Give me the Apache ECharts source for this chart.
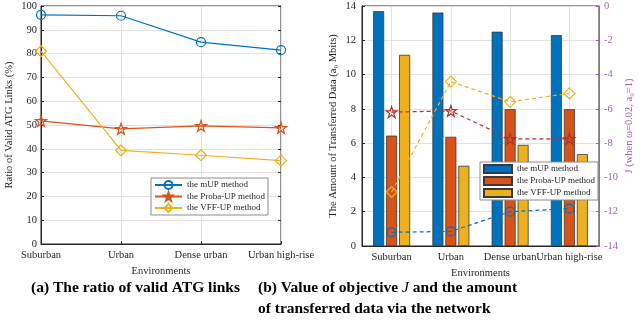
<!DOCTYPE html>
<html><head><meta charset="utf-8">
<script src="https://cdn.jsdelivr.net/npm/echarts@6/dist/echarts.min.js"></script>
<style>html,body{margin:0;padding:0;background:#fff}#c{width:644px;height:327px}</style>
</head><body><div id="c"></div>
<script>
// ---- data ----
const categories = ['Suburban', 'Urban', 'Dense urban', 'Urban high-rise'];
const methodNames = ['the mUP method', 'the Proba-UP method', 'the VFF-UP method'];
// (a) ratio of valid ATG links (%)
const ratioMUP = [96.3, 95.9, 84.8, 81.5];
const ratioProba = [51.7, 48.4, 49.6, 48.8];
const ratioVFF = [81.0, 39.3, 37.3, 35.0];
// (b) transferred data (a0 Mbits)
const dataMUP = [13.7, 13.62, 12.5, 12.3];
const dataProba = [6.44, 6.37, 7.98, 7.98];
const dataVFF = [11.15, 4.68, 5.9, 5.36];
// (b) objective J
const jMUP = [-13.2, -13.15, -12.0, -11.82];
const jProba = [-6.19, -6.12, -7.75, -7.75];
const jVFF = [-10.85, -4.41, -5.59, -5.1];

const FONT = 'Liberation Serif';
const AX = '#262626';
const GRID = '#e2e2e2';
const PURPLE = '#9a62b3';
const BLUE = '#0072BD', ORANGE = '#D95319', YELLOW = '#EDB120', RED = '#B5302A';
const STAR = 'path://M0,-10L2.245,-3.09L9.51,-3.09L3.633,1.18L5.88,8.09L0,3.82L-5.88,8.09L-3.633,1.18L-9.51,-3.09L-2.245,-3.09Z';
const txt = (size, color) => ({fontFamily: FONT, fontSize: size, color: color || AX});

const chart = echarts.init(document.getElementById('c'));

function lineSeries(name, data, color, symbol, size, xi, yi, dashed) {
  return {
    type: 'line', name: name, data: data, xAxisIndex: xi, yAxisIndex: yi,
    symbol: symbol, symbolSize: size, z: 5,
    lineStyle: {color: color, width: 1.2, type: dashed ? [4, 3] : 'solid'},
    itemStyle: {color: 'rgba(0,0,0,0)', borderColor: color, borderWidth: 1.2}
  };
}
function barSeries(name, data, color) {
  return {
    type: 'bar', name: name, data: data, xAxisIndex: 1, yAxisIndex: 1,
    barWidth: 11, barGap: '18%', z: 2,
    itemStyle: {color: color, borderColor: '#3a3a3a', borderWidth: 0.8}
  };
}
const bName = methodNames.map(n => n + '\u200b');
const capStyle = {fontFamily: FONT, fontWeight: 'bold', fontSize: 15.5, color: '#000', lineHeight: 21};

const option = {
  animation: false,
  backgroundColor: '#fff',
  title: [
    {text: '(a) The ratio of valid ATG links', left: 31, top: 277, padding: 0, textStyle: capStyle},
    {text: '(b) Value of objective {i|J} and the amount\nof transferred data via the network', left: 258, top: 277, padding: 0,
     textStyle: Object.assign({}, capStyle, {
       rich: {i: Object.assign({}, capStyle, {fontStyle: 'italic', fontWeight: 'normal'})}})}
  ],
  grid: [
    {left: 41, top: 6, width: 240, height: 238, show: true, borderColor: AX, borderWidth: 1},
    {left: 362, top: 6, width: 237, height: 240, show: true, borderColor: AX, borderWidth: 1}
  ],
  legend: [
    {data: methodNames, left: 151, top: 178, orient: 'vertical', padding: [2, 3], itemGap: 1.5,
     itemWidth: 27, itemHeight: 10, textStyle: txt(9), backgroundColor: '#fff', borderColor: '#8c8c8c', borderWidth: 1,
     selectedMode: false},
    {data: bName, left: 480, top: 162, orient: 'vertical', padding: [2, 3], itemGap: 2,
     itemWidth: 28, itemHeight: 8, icon: 'rect', textStyle: txt(9), backgroundColor: '#fff', borderColor: '#8c8c8c', borderWidth: 1,
     selectedMode: false}
  ],
  xAxis: [
    {gridIndex: 0, type: 'category', data: categories, boundaryGap: false,
     axisLine: {lineStyle: {color: AX}}, axisTick: {inside: true, length: 3, lineStyle: {color: AX}},
     axisLabel: Object.assign({margin: 6, interval: 0}, txt(10.5)),
     splitLine: {show: true, lineStyle: {color: GRID}},
     name: 'Environments', nameLocation: 'middle', nameGap: 18, nameTextStyle: txt(10.5)},
    {gridIndex: 1, type: 'category', data: categories,
     axisLine: {lineStyle: {color: AX}}, axisTick: {inside: true, length: 3, alignWithLabel: true, lineStyle: {color: AX}},
     axisLabel: Object.assign({margin: 6, interval: 0}, txt(10.5)),
     splitLine: {show: true, alignWithLabel: true, lineStyle: {color: GRID}},
     name: 'Environments', nameLocation: 'middle', nameGap: 18, nameTextStyle: txt(10.5)}
  ],
  yAxis: [
    {gridIndex: 0, type: 'value', min: 0, max: 100, interval: 10,
     axisLine: {show: true, lineStyle: {color: AX}}, axisTick: {show: true, inside: true, length: 3, lineStyle: {color: AX}},
     axisLabel: Object.assign({margin: 4}, txt(10.5)),
     splitLine: {show: true, lineStyle: {color: GRID}},
     name: 'Ratio of Valid ATG Links (%)', nameLocation: 'middle', nameGap: 26, nameRotate: 90, nameTextStyle: txt(10.5)},
    {gridIndex: 1, type: 'value', min: 0, max: 14, interval: 2,
     axisLine: {show: true, lineStyle: {color: AX}}, axisTick: {show: true, inside: true, length: 3, lineStyle: {color: AX}},
     axisLabel: Object.assign({margin: 6}, txt(10.5)),
     splitLine: {show: true, lineStyle: {color: GRID}},
     name: 'The Amount of Transferred Data (a\u2080 Mbits)', nameLocation: 'middle', nameGap: 23, nameRotate: 90, nameTextStyle: txt(10.5)},
    {gridIndex: 1, type: 'value', position: 'right', min: -14, max: 0, interval: 2,
     axisLine: {show: true, lineStyle: {color: PURPLE}}, axisTick: {show: true, inside: true, length: 3, lineStyle: {color: PURPLE}},
     axisLabel: Object.assign({margin: 5}, txt(10.5, PURPLE)),
     splitLine: {show: false},
     name: 'J (when \u03c9=0.02, a\u2080=1)', nameLocation: 'middle', nameGap: 25, nameRotate: 90, nameTextStyle: txt(10.5, PURPLE)},
    {gridIndex: 0, type: 'value', position: 'right', min: 0, max: 100, interval: 10,
     axisLine: {show: false}, axisTick: {show: true, inside: true, length: 3, lineStyle: {color: AX}},
     axisLabel: {show: false}, splitLine: {show: false}}
  ],
  series: [
    lineSeries(methodNames[0], ratioMUP, BLUE, 'circle', 9, 0, 0, false),
    lineSeries(methodNames[1], ratioProba, ORANGE, STAR, 11, 0, 0, false),
    lineSeries(methodNames[2], ratioVFF, YELLOW, 'diamond', 11, 0, 0, false),
    barSeries(bName[0], dataMUP, BLUE),
    barSeries(bName[1], dataProba, ORANGE),
    barSeries(bName[2], dataVFF, YELLOW),
    lineSeries('J mUP', jMUP, BLUE, 'circle', 9, 1, 2, true),
    lineSeries('J Proba', jProba, RED, STAR, 11, 1, 2, true),
    lineSeries('J VFF', jVFF, YELLOW, 'diamond', 11, 1, 2, true)
  ]
};
chart.setOption(option);
</script>
</body></html>
